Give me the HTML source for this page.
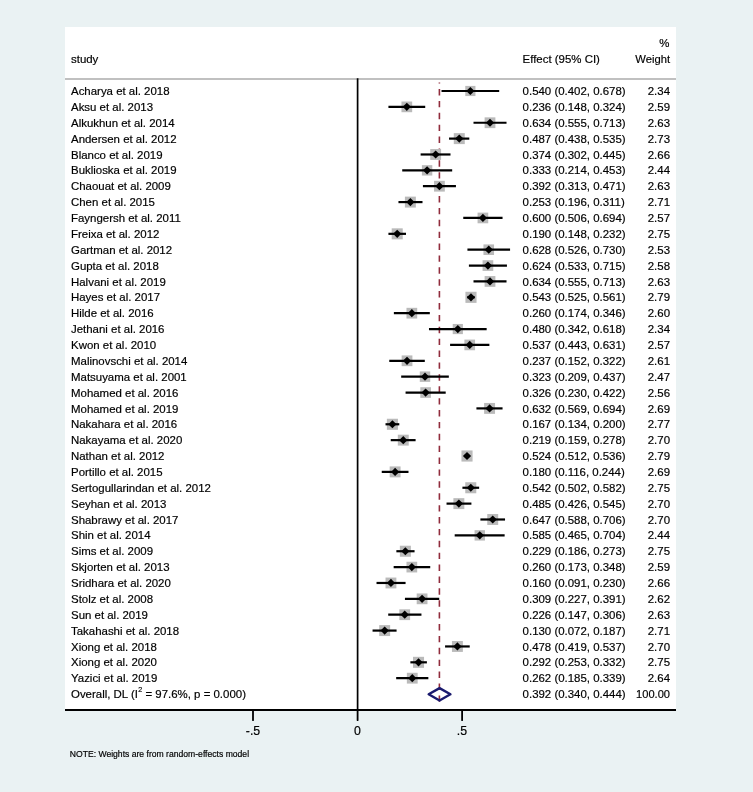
<!DOCTYPE html><html><head><meta charset="utf-8"><style>
html,body{margin:0;padding:0;background:#eaf2f3;}
body{width:753px;height:792px;overflow:hidden;position:relative;}
svg{position:absolute;left:0;top:0;will-change:transform;}
text{font-family:"Liberation Sans",sans-serif;fill:#000;stroke:#000;stroke-width:0.18px;}
</style></head><body>
<svg width="753" height="792" viewBox="0 0 753 792">
<rect x="0" y="0" width="753" height="792" fill="#eaf2f3"/>
<rect x="65" y="27" width="611" height="683" fill="#fff"/>

<g font-size="11.45">
<text x="71.0" y="63.3">study</text>
<text x="522.6" y="63.3">Effect (95% CI)</text>
<text x="670.0" y="63.3" text-anchor="end" textLength="34.7" lengthAdjust="spacingAndGlyphs">Weight</text>
<text x="670.0" y="47" text-anchor="end" dx="-0.5">%</text>
</g>
<rect x="65" y="78" width="611" height="2" fill="#c0c0c0"/>
<line x1="357.6" y1="78.3" x2="357.6" y2="710" stroke="#000" stroke-width="1.7"/>
<line x1="439.4" y1="82.4" x2="439.4" y2="702" stroke="#902c3c" stroke-width="1.6" stroke-dasharray="6.4 5.49" stroke-dashoffset="5.3"/>
<g font-size="11.45">
<rect x="465.27" y="85.91" width="10.17" height="10.17" fill="#bababa"/>
<line x1="441.52" y1="91.00" x2="499.20" y2="91.00" stroke="#000" stroke-width="2.2"/>
<path d="M466.26 91.00L470.36 86.90L474.46 91.00L470.36 95.10Z" fill="#000"/>
<text x="71.0" y="95.10">Acharya et al. 2018</text>
<text x="522.6" y="95.10">0.540 (0.402, 0.678)</text>
<text x="670.0" y="95.10" text-anchor="end">2.34</text>
<rect x="401.47" y="101.52" width="10.70" height="10.70" fill="#bababa"/>
<line x1="388.43" y1="106.87" x2="425.22" y2="106.87" stroke="#000" stroke-width="2.2"/>
<path d="M402.72 106.87L406.82 102.77L410.92 106.87L406.82 110.97Z" fill="#000"/>
<text x="71.0" y="110.97">Aksu et al. 2013</text>
<text x="522.6" y="110.97">0.236 (0.148, 0.324)</text>
<text x="670.0" y="110.97" text-anchor="end">2.59</text>
<rect x="484.61" y="117.35" width="10.78" height="10.78" fill="#bababa"/>
<line x1="473.50" y1="122.74" x2="506.52" y2="122.74" stroke="#000" stroke-width="2.2"/>
<path d="M485.91 122.74L490.01 118.64L494.11 122.74L490.01 126.84Z" fill="#000"/>
<text x="71.0" y="126.84">Alkukhun et al. 2014</text>
<text x="522.6" y="126.84">0.634 (0.555, 0.713)</text>
<text x="670.0" y="126.84" text-anchor="end">2.63</text>
<rect x="453.79" y="133.12" width="10.99" height="10.99" fill="#bababa"/>
<line x1="449.04" y1="138.61" x2="469.31" y2="138.61" stroke="#000" stroke-width="2.2"/>
<path d="M455.18 138.61L459.28 134.51L463.38 138.61L459.28 142.71Z" fill="#000"/>
<text x="71.0" y="142.71">Andersen et al. 2012</text>
<text x="522.6" y="142.71">0.487 (0.438, 0.535)</text>
<text x="670.0" y="142.71" text-anchor="end">2.73</text>
<rect x="430.24" y="149.06" width="10.85" height="10.85" fill="#bababa"/>
<line x1="420.62" y1="154.48" x2="450.50" y2="154.48" stroke="#000" stroke-width="2.2"/>
<path d="M431.57 154.48L435.67 150.38L439.77 154.48L435.67 158.58Z" fill="#000"/>
<text x="71.0" y="158.58">Blanco et al. 2019</text>
<text x="522.6" y="158.58">0.374 (0.302, 0.445)</text>
<text x="670.0" y="158.58" text-anchor="end">2.66</text>
<rect x="421.90" y="165.16" width="10.39" height="10.39" fill="#bababa"/>
<line x1="402.23" y1="170.35" x2="452.18" y2="170.35" stroke="#000" stroke-width="2.2"/>
<path d="M423.00 170.35L427.10 166.25L431.20 170.35L427.10 174.45Z" fill="#000"/>
<text x="71.0" y="174.45">Buklioska et al. 2019</text>
<text x="522.6" y="174.45">0.333 (0.214, 0.453)</text>
<text x="670.0" y="174.45" text-anchor="end">2.44</text>
<rect x="434.04" y="180.83" width="10.78" height="10.78" fill="#bababa"/>
<line x1="422.92" y1="186.22" x2="455.94" y2="186.22" stroke="#000" stroke-width="2.2"/>
<path d="M435.33 186.22L439.43 182.12L443.53 186.22L439.43 190.32Z" fill="#000"/>
<text x="71.0" y="190.32">Chaouat et al. 2009</text>
<text x="522.6" y="190.32">0.392 (0.313, 0.471)</text>
<text x="670.0" y="190.32" text-anchor="end">2.63</text>
<rect x="404.90" y="196.62" width="10.95" height="10.95" fill="#bababa"/>
<line x1="398.46" y1="202.09" x2="422.50" y2="202.09" stroke="#000" stroke-width="2.2"/>
<path d="M406.28 202.09L410.38 197.99L414.48 202.09L410.38 206.19Z" fill="#000"/>
<text x="71.0" y="206.19">Chen et al. 2015</text>
<text x="522.6" y="206.19">0.253 (0.196, 0.311)</text>
<text x="670.0" y="206.19" text-anchor="end">2.71</text>
<rect x="477.57" y="212.63" width="10.66" height="10.66" fill="#bababa"/>
<line x1="463.25" y1="217.96" x2="502.55" y2="217.96" stroke="#000" stroke-width="2.2"/>
<path d="M478.80 217.96L482.90 213.86L487.00 217.96L482.90 222.06Z" fill="#000"/>
<text x="71.0" y="222.06">Fayngersh et al. 2011</text>
<text x="522.6" y="222.06">0.600 (0.506, 0.694)</text>
<text x="670.0" y="222.06" text-anchor="end">2.57</text>
<rect x="391.70" y="228.32" width="11.03" height="11.03" fill="#bababa"/>
<line x1="388.43" y1="233.83" x2="405.99" y2="233.83" stroke="#000" stroke-width="2.2"/>
<path d="M393.11 233.83L397.21 229.73L401.31 233.83L397.21 237.93Z" fill="#000"/>
<text x="71.0" y="237.93">Freixa et al. 2012</text>
<text x="522.6" y="237.93">0.190 (0.148, 0.232)</text>
<text x="670.0" y="237.93" text-anchor="end">2.75</text>
<rect x="483.46" y="244.41" width="10.58" height="10.58" fill="#bababa"/>
<line x1="467.43" y1="249.70" x2="510.07" y2="249.70" stroke="#000" stroke-width="2.2"/>
<path d="M484.65 249.70L488.75 245.60L492.85 249.70L488.75 253.80Z" fill="#000"/>
<text x="71.0" y="253.80">Gartman et al. 2012</text>
<text x="522.6" y="253.80">0.628 (0.526, 0.730)</text>
<text x="670.0" y="253.80" text-anchor="end">2.53</text>
<rect x="482.58" y="260.23" width="10.68" height="10.68" fill="#bababa"/>
<line x1="468.90" y1="265.57" x2="506.94" y2="265.57" stroke="#000" stroke-width="2.2"/>
<path d="M483.82 265.57L487.92 261.47L492.02 265.57L487.92 269.67Z" fill="#000"/>
<text x="71.0" y="269.67">Gupta et al. 2018</text>
<text x="522.6" y="269.67">0.624 (0.533, 0.715)</text>
<text x="670.0" y="269.67" text-anchor="end">2.58</text>
<rect x="484.61" y="276.05" width="10.78" height="10.78" fill="#bababa"/>
<line x1="473.50" y1="281.44" x2="506.52" y2="281.44" stroke="#000" stroke-width="2.2"/>
<path d="M485.91 281.44L490.01 277.34L494.11 281.44L490.01 285.54Z" fill="#000"/>
<text x="71.0" y="285.54">Halvani et al. 2019</text>
<text x="522.6" y="285.54">0.634 (0.555, 0.713)</text>
<text x="670.0" y="285.54" text-anchor="end">2.63</text>
<rect x="465.43" y="291.76" width="11.11" height="11.11" fill="#bababa"/>
<line x1="467.23" y1="297.31" x2="474.75" y2="297.31" stroke="#000" stroke-width="2.2"/>
<path d="M466.89 297.31L470.99 293.21L475.09 297.31L470.99 301.41Z" fill="#000"/>
<text x="71.0" y="301.41">Hayes et al. 2017</text>
<text x="522.6" y="301.41">0.543 (0.525, 0.561)</text>
<text x="670.0" y="301.41" text-anchor="end">2.79</text>
<rect x="406.48" y="307.82" width="10.72" height="10.72" fill="#bababa"/>
<line x1="393.87" y1="313.18" x2="429.81" y2="313.18" stroke="#000" stroke-width="2.2"/>
<path d="M407.74 313.18L411.84 309.08L415.94 313.18L411.84 317.28Z" fill="#000"/>
<text x="71.0" y="317.28">Hilde et al. 2016</text>
<text x="522.6" y="317.28">0.260 (0.174, 0.346)</text>
<text x="670.0" y="317.28" text-anchor="end">2.60</text>
<rect x="452.73" y="323.96" width="10.17" height="10.17" fill="#bababa"/>
<line x1="428.98" y1="329.05" x2="486.66" y2="329.05" stroke="#000" stroke-width="2.2"/>
<path d="M453.72 329.05L457.82 324.95L461.92 329.05L457.82 333.15Z" fill="#000"/>
<text x="71.0" y="333.15">Jethani et al. 2016</text>
<text x="522.6" y="333.15">0.480 (0.342, 0.618)</text>
<text x="670.0" y="333.15" text-anchor="end">2.34</text>
<rect x="464.40" y="339.59" width="10.66" height="10.66" fill="#bababa"/>
<line x1="450.09" y1="344.92" x2="489.38" y2="344.92" stroke="#000" stroke-width="2.2"/>
<path d="M465.63 344.92L469.73 340.82L473.83 344.92L469.73 349.02Z" fill="#000"/>
<text x="71.0" y="349.02">Kwon et al. 2010</text>
<text x="522.6" y="349.02">0.537 (0.443, 0.631)</text>
<text x="670.0" y="349.02" text-anchor="end">2.57</text>
<rect x="401.66" y="355.42" width="10.74" height="10.74" fill="#bababa"/>
<line x1="389.27" y1="360.79" x2="424.80" y2="360.79" stroke="#000" stroke-width="2.2"/>
<path d="M402.93 360.79L407.03 356.69L411.13 360.79L407.03 364.89Z" fill="#000"/>
<text x="71.0" y="364.89">Malinovschi et al. 2014</text>
<text x="522.6" y="364.89">0.237 (0.152, 0.322)</text>
<text x="670.0" y="364.89" text-anchor="end">2.61</text>
<rect x="419.78" y="371.43" width="10.45" height="10.45" fill="#bababa"/>
<line x1="401.18" y1="376.66" x2="448.83" y2="376.66" stroke="#000" stroke-width="2.2"/>
<path d="M420.91 376.66L425.01 372.56L429.11 376.66L425.01 380.76Z" fill="#000"/>
<text x="71.0" y="380.76">Matsuyama et al. 2001</text>
<text x="522.6" y="380.76">0.323 (0.209, 0.437)</text>
<text x="670.0" y="380.76" text-anchor="end">2.47</text>
<rect x="420.31" y="387.21" width="10.64" height="10.64" fill="#bababa"/>
<line x1="405.57" y1="392.53" x2="445.70" y2="392.53" stroke="#000" stroke-width="2.2"/>
<path d="M421.53 392.53L425.63 388.43L429.73 392.53L425.63 396.63Z" fill="#000"/>
<text x="71.0" y="396.63">Mohamed et al. 2016</text>
<text x="522.6" y="396.63">0.326 (0.230, 0.422)</text>
<text x="670.0" y="396.63" text-anchor="end">2.56</text>
<rect x="484.13" y="402.95" width="10.91" height="10.91" fill="#bababa"/>
<line x1="476.42" y1="408.40" x2="502.55" y2="408.40" stroke="#000" stroke-width="2.2"/>
<path d="M485.49 408.40L489.59 404.30L493.69 408.40L489.59 412.50Z" fill="#000"/>
<text x="71.0" y="412.50">Mohamed et al. 2019</text>
<text x="522.6" y="412.50">0.632 (0.569, 0.694)</text>
<text x="670.0" y="412.50" text-anchor="end">2.69</text>
<rect x="386.87" y="418.74" width="11.07" height="11.07" fill="#bababa"/>
<line x1="385.51" y1="424.27" x2="399.30" y2="424.27" stroke="#000" stroke-width="2.2"/>
<path d="M388.30 424.27L392.40 420.17L396.50 424.27L392.40 428.37Z" fill="#000"/>
<text x="71.0" y="428.37">Nakahara et al. 2016</text>
<text x="522.6" y="428.37">0.167 (0.134, 0.200)</text>
<text x="670.0" y="428.37" text-anchor="end">2.77</text>
<rect x="397.81" y="434.68" width="10.93" height="10.93" fill="#bababa"/>
<line x1="390.73" y1="440.14" x2="415.60" y2="440.14" stroke="#000" stroke-width="2.2"/>
<path d="M399.17 440.14L403.27 436.04L407.37 440.14L403.27 444.24Z" fill="#000"/>
<text x="71.0" y="444.24">Nakayama et al. 2020</text>
<text x="522.6" y="444.24">0.219 (0.159, 0.278)</text>
<text x="670.0" y="444.24" text-anchor="end">2.70</text>
<rect x="461.46" y="450.46" width="11.11" height="11.11" fill="#bababa"/>
<line x1="464.51" y1="456.01" x2="469.52" y2="456.01" stroke="#000" stroke-width="2.2"/>
<path d="M462.92 456.01L467.02 451.91L471.12 456.01L467.02 460.11Z" fill="#000"/>
<text x="71.0" y="460.11">Nathan et al. 2012</text>
<text x="522.6" y="460.11">0.524 (0.512, 0.536)</text>
<text x="670.0" y="460.11" text-anchor="end">2.79</text>
<rect x="389.67" y="466.43" width="10.91" height="10.91" fill="#bababa"/>
<line x1="381.74" y1="471.88" x2="408.50" y2="471.88" stroke="#000" stroke-width="2.2"/>
<path d="M391.02 471.88L395.12 467.78L399.22 471.88L395.12 475.98Z" fill="#000"/>
<text x="71.0" y="475.98">Portillo et al. 2015</text>
<text x="522.6" y="475.98">0.180 (0.116, 0.244)</text>
<text x="670.0" y="475.98" text-anchor="end">2.69</text>
<rect x="465.26" y="482.24" width="11.03" height="11.03" fill="#bababa"/>
<line x1="462.42" y1="487.75" x2="479.14" y2="487.75" stroke="#000" stroke-width="2.2"/>
<path d="M466.68 487.75L470.78 483.65L474.88 487.75L470.78 491.85Z" fill="#000"/>
<text x="71.0" y="491.85">Sertogullarindan et al. 2012</text>
<text x="522.6" y="491.85">0.542 (0.502, 0.582)</text>
<text x="670.0" y="491.85" text-anchor="end">2.75</text>
<rect x="453.40" y="498.16" width="10.93" height="10.93" fill="#bababa"/>
<line x1="446.53" y1="503.62" x2="471.41" y2="503.62" stroke="#000" stroke-width="2.2"/>
<path d="M454.76 503.62L458.87 499.52L462.97 503.62L458.87 507.72Z" fill="#000"/>
<text x="71.0" y="507.72">Seyhan et al. 2013</text>
<text x="522.6" y="507.72">0.485 (0.426, 0.545)</text>
<text x="670.0" y="507.72" text-anchor="end">2.70</text>
<rect x="487.26" y="514.03" width="10.93" height="10.93" fill="#bababa"/>
<line x1="480.39" y1="519.49" x2="505.05" y2="519.49" stroke="#000" stroke-width="2.2"/>
<path d="M488.62 519.49L492.72 515.39L496.82 519.49L492.72 523.59Z" fill="#000"/>
<text x="71.0" y="523.59">Shabrawy et al. 2017</text>
<text x="522.6" y="523.59">0.647 (0.588, 0.706)</text>
<text x="670.0" y="523.59" text-anchor="end">2.70</text>
<rect x="474.57" y="530.17" width="10.39" height="10.39" fill="#bababa"/>
<line x1="454.69" y1="535.36" x2="504.64" y2="535.36" stroke="#000" stroke-width="2.2"/>
<path d="M475.66 535.36L479.76 531.26L483.87 535.36L479.76 539.46Z" fill="#000"/>
<text x="71.0" y="539.46">Shin et al. 2014</text>
<text x="522.6" y="539.46">0.585 (0.465, 0.704)</text>
<text x="670.0" y="539.46" text-anchor="end">2.44</text>
<rect x="399.85" y="545.72" width="11.03" height="11.03" fill="#bababa"/>
<line x1="396.37" y1="551.23" x2="414.56" y2="551.23" stroke="#000" stroke-width="2.2"/>
<path d="M401.26 551.23L405.36 547.13L409.46 551.23L405.36 555.33Z" fill="#000"/>
<text x="71.0" y="555.33">Sims et al. 2009</text>
<text x="522.6" y="555.33">0.229 (0.186, 0.273)</text>
<text x="670.0" y="555.33" text-anchor="end">2.75</text>
<rect x="406.49" y="561.75" width="10.70" height="10.70" fill="#bababa"/>
<line x1="393.66" y1="567.10" x2="430.23" y2="567.10" stroke="#000" stroke-width="2.2"/>
<path d="M407.74 567.10L411.84 563.00L415.94 567.10L411.84 571.20Z" fill="#000"/>
<text x="71.0" y="571.20">Skjorten et al. 2013</text>
<text x="522.6" y="571.20">0.260 (0.173, 0.348)</text>
<text x="670.0" y="571.20" text-anchor="end">2.59</text>
<rect x="385.52" y="577.55" width="10.85" height="10.85" fill="#bababa"/>
<line x1="376.52" y1="582.97" x2="405.57" y2="582.97" stroke="#000" stroke-width="2.2"/>
<path d="M386.84 582.97L390.94 578.87L395.04 582.97L390.94 587.07Z" fill="#000"/>
<text x="71.0" y="587.07">Sridhara et al. 2020</text>
<text x="522.6" y="587.07">0.160 (0.091, 0.230)</text>
<text x="670.0" y="587.07" text-anchor="end">2.66</text>
<rect x="416.70" y="593.46" width="10.76" height="10.76" fill="#bababa"/>
<line x1="404.94" y1="598.84" x2="439.22" y2="598.84" stroke="#000" stroke-width="2.2"/>
<path d="M417.98 598.84L422.08 594.74L426.18 598.84L422.08 602.94Z" fill="#000"/>
<text x="71.0" y="602.94">Stolz et al. 2008</text>
<text x="522.6" y="602.94">0.309 (0.227, 0.391)</text>
<text x="670.0" y="602.94" text-anchor="end">2.62</text>
<rect x="399.34" y="609.32" width="10.78" height="10.78" fill="#bababa"/>
<line x1="388.22" y1="614.71" x2="421.45" y2="614.71" stroke="#000" stroke-width="2.2"/>
<path d="M400.63 614.71L404.73 610.61L408.83 614.71L404.73 618.81Z" fill="#000"/>
<text x="71.0" y="618.81">Sun et al. 2019</text>
<text x="522.6" y="618.81">0.226 (0.147, 0.306)</text>
<text x="670.0" y="618.81" text-anchor="end">2.63</text>
<rect x="379.20" y="625.11" width="10.95" height="10.95" fill="#bababa"/>
<line x1="372.55" y1="630.58" x2="396.58" y2="630.58" stroke="#000" stroke-width="2.2"/>
<path d="M380.57 630.58L384.67 626.48L388.77 630.58L384.67 634.68Z" fill="#000"/>
<text x="71.0" y="634.68">Takahashi et al. 2018</text>
<text x="522.6" y="634.68">0.130 (0.072, 0.187)</text>
<text x="670.0" y="634.68" text-anchor="end">2.71</text>
<rect x="451.94" y="640.99" width="10.93" height="10.93" fill="#bababa"/>
<line x1="445.07" y1="646.45" x2="469.73" y2="646.45" stroke="#000" stroke-width="2.2"/>
<path d="M453.30 646.45L457.40 642.35L461.50 646.45L457.40 650.55Z" fill="#000"/>
<text x="71.0" y="650.55">Xiong et al. 2018</text>
<text x="522.6" y="650.55">0.478 (0.419, 0.537)</text>
<text x="670.0" y="650.55" text-anchor="end">2.70</text>
<rect x="413.01" y="656.81" width="11.03" height="11.03" fill="#bababa"/>
<line x1="410.38" y1="662.32" x2="426.89" y2="662.32" stroke="#000" stroke-width="2.2"/>
<path d="M414.43 662.32L418.53 658.22L422.63 662.32L418.53 666.42Z" fill="#000"/>
<text x="71.0" y="666.42">Xiong et al. 2020</text>
<text x="522.6" y="666.42">0.292 (0.253, 0.332)</text>
<text x="670.0" y="666.42" text-anchor="end">2.75</text>
<rect x="406.86" y="672.79" width="10.80" height="10.80" fill="#bababa"/>
<line x1="396.17" y1="678.19" x2="428.35" y2="678.19" stroke="#000" stroke-width="2.2"/>
<path d="M408.16 678.19L412.26 674.09L416.36 678.19L412.26 682.29Z" fill="#000"/>
<text x="71.0" y="682.29">Yazici et al. 2019</text>
<text x="522.6" y="682.29">0.262 (0.185, 0.339)</text>
<text x="670.0" y="682.29" text-anchor="end">2.64</text>
<text x="71.0" y="698.16">Overall, DL (I<tspan font-size="7.10" dy="-6.0" dx="0.4">2</tspan><tspan dy="6.0"> = 97.6%, p = 0.000)</tspan></text>
<text x="522.6" y="698.16">0.392 (0.340, 0.444)</text>
<text x="670.0" y="698.16" text-anchor="end" textLength="33.9" lengthAdjust="spacingAndGlyphs">100.00</text>
</g>
<path d="M428.68 694.30L439.55 688.10L450.42 694.30L439.55 700.50Z" fill="none" stroke="#1a1a6e" stroke-width="2.4" stroke-linejoin="round"/>
<rect x="65" y="709" width="611" height="2" fill="#000"/>
<line x1="253.0" y1="710" x2="253.0" y2="720.2" stroke="#000" stroke-width="1.8" stroke-linecap="round"/>
<text x="253.00" y="734.9" font-size="12.3" text-anchor="middle">-.5</text>
<line x1="357.6" y1="710" x2="357.6" y2="720.2" stroke="#000" stroke-width="1.8" stroke-linecap="round"/>
<text x="357.50" y="734.9" font-size="12.3" text-anchor="middle">0</text>
<line x1="462.1" y1="710" x2="462.1" y2="720.2" stroke="#000" stroke-width="1.8" stroke-linecap="round"/>
<text x="462.00" y="734.9" font-size="12.3" text-anchor="middle">.5</text>
<text x="69.8" y="757" font-size="8.6">NOTE: Weights are from random-effects model</text>
</svg></body></html>
